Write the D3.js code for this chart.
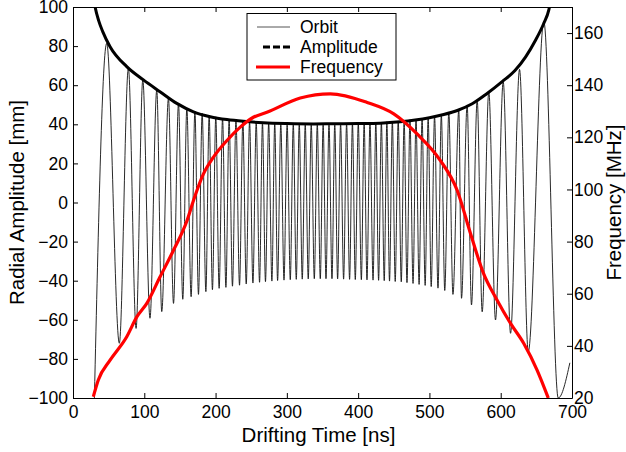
<!DOCTYPE html>
<html><head><meta charset="utf-8">
<script src="https://cdn.jsdelivr.net/npm/d3@7"></script>
<style>body{margin:0;background:#fff}svg{display:block;font-family:"Liberation Sans",Arial,sans-serif}</style>
</head><body><svg id="c" width="626" height="452"></svg>
<script>
const xTicks = [0,100,200,300,400,500,600,700];
const yLeftTicks = [-100,-80,-60,-40,-20,0,20,40,60,80,100];
const yRightTicks = [20,40,60,80,100,120,140,160];
const seriesNames = ["Orbit","Amplitude","Frequency"];
const xLabel = "Drifting Time [ns]";
const yLeftLabel = "Radial Amplitude [mm]";
const yRightLabel = "Frequency [MHz]";

// Orbit extrema
const orbitPeakTime = [47.3,77.7,97.9,117.5,133.9,148,159.7,171,181.2,191,200.3,209.8,219,228.6,238.3,247.7,257,265.8,274.5,283,291.5,300.4,309,317.4,325.8,334.2,342.7,350.9,359.1,367.2,375.4,383.8,392,400.2,408.4,416.6,424.8,432.6,440.3,448,456.2,464.5,472.7,481.2,489.7,498.2,507.2,516.7,527.2,541.2,552.9,567,583.3,603.5,626.4,660.5];
const orbitPeakValue = [81.4,68.6,62.7,57.5,53.3,50.7,48.2,46.8,45.6,44.6,43.8,43.1,42.6,42.1,41.7,41.3,41,40.8,40.6,40.5,40.4,40.3,40.2,40.2,40.2,40.2,40.2,40.2,40.2,40.3,40.3,40.4,40.5,40.6,40.7,40.8,41,41.1,41.3,41.5,41.7,42,42.3,42.7,43.1,43.6,44.2,45,46.2,47.3,49.9,52.4,56.7,61.8,68.1,92.5];
const orbitTroughTime = [30,65,88.5,108,124.5,141,154,165.7,176,186.4,195.6,205,214.5,223.7,233.6,243,252.4,261.7,270,279,287,296,304.8,313.2,321.6,330,338.5,346.9,354.9,363.3,371.2,379.6,388,396,404.5,412.4,420.9,428.7,436.6,444,452,460.5,468.5,477,485.5,494,502.5,512,521.5,533,545,559,574,592.7,613.8,638.6,680.7];
const orbitTroughValue = [-100,-72,-64.4,-59.2,-55.8,-51.6,-49.5,-48.2,-47,-45.6,-44.6,-43.9,-43.4,-42.8,-42.3,-41.7,-41.2,-40.8,-40.5,-40.2,-39.9,-39.7,-39.5,-39.3,-39.2,-39.1,-39,-39,-39,-39,-39.1,-39.2,-39.3,-39.4,-39.5,-39.6,-39.7,-39.8,-40,-40.2,-40.4,-40.6,-41,-41.4,-41.9,-42.4,-43,-43.8,-45,-47,-49,-52.4,-55.9,-60.1,-66.9,-76.3,-100];
const orbitEndTime = [697];
const orbitEndValue = [-82];

// Amplitude envelope
const ampTime = [29,31,36,41.7,52,75.4,98.8,122,145.6,169,192.4,216,239,267,300,337.5,365.6,400,431,459,480,500,520,540,560,580,602,620,635,649,660.5,667.5,670];
const ampValue = [104,100,93,87.4,79.7,69.5,62.7,56.7,50.7,46.4,43.9,42.4,41.5,40.8,40.4,40.2,40.3,40.4,40.6,41.3,42.2,43.4,45,47.2,50.5,55.5,61.8,67.5,74.5,83.1,91.7,98.5,103];

// Frequency (MHz)
const freqTime = [28.5,35.5,52,75.4,89.5,103.5,122,141,160,169,183,197,216,234.6,253,272,318.8,361,412.5,450,482.7,515.4,539,557.6,576,595,613.8,632.4,651,666.7];
const freqValue = [20.5,26.9,34.5,43.5,51.1,56.3,66.4,76.7,88.1,95.8,106,112.4,118.8,123.9,127.7,129.6,135.1,136.7,133.4,129,121.3,111.1,99.6,83.1,67.7,57.5,48.6,40.9,30.7,20];

const svg = d3.select("#c");
const L = 73, R = 572, T = 7, B = 398;
const x = d3.scaleLinear().domain([0,700]).range([L,R]);
const yL = d3.scaleLinear().domain([-100,100]).range([B,T]);
const yR = d3.scaleLinear().domain([20,170]).range([B,T]);
const FS = 17.5, LFS = 20.5, GFS = 17.5;

svg.append("defs").append("clipPath").attr("id","clip")
  .append("rect").attr("x",L).attr("y",T).attr("width",R-L).attr("height",B-T);

// Orbit
const orbit = [];
orbitPeakTime.forEach((t,i)=>orbit.push([t,orbitPeakValue[i]]));
orbitTroughTime.forEach((t,i)=>orbit.push([t,orbitTroughValue[i]]));
orbitEndTime.forEach((t,i)=>orbit.push([t,orbitEndValue[i]]));
orbit.sort((a,b)=>a[0]-b[0]);

const g = svg.append("g").attr("clip-path","url(#clip)");
g.append("path").datum(orbit)
  .attr("d", d3.line().x(d=>x(d[0])).y(d=>yL(d[1])).curve(d3.curveMonotoneX))
  .attr("fill","none").attr("stroke","#111").attr("stroke-width",0.9);

g.append("path").datum(ampTime.map((t,i)=>[t,ampValue[i]]))
  .attr("d", d3.line().x(d=>x(d[0])).y(d=>yL(d[1])).curve(d3.curveMonotoneX))
  .attr("fill","none").attr("stroke","#000").attr("stroke-width",3);

g.append("path").datum(freqTime.map((t,i)=>[t,freqValue[i]]))
  .attr("d", d3.line().x(d=>x(d[0])).y(d=>yR(d[1])).curve(d3.curveMonotoneX))
  .attr("fill","none").attr("stroke","#ff0000").attr("stroke-width",3.2)
  .attr("stroke-linejoin","round");

// Axes
function styleAxis(sel){
  sel.selectAll("path,line").attr("stroke","#000").attr("stroke-width",1);
  sel.selectAll("text").attr("font-size",FS).attr("fill","#000")
    .attr("font-family",'"Liberation Sans",Arial,sans-serif');
}
svg.append("g").attr("transform",`translate(0,${B})`)
  .call(d3.axisBottom(x).tickValues(xTicks).tickSizeInner(-5).tickSizeOuter(0).tickPadding(8))
  .call(styleAxis);
svg.append("g").attr("transform",`translate(0,${T})`)
  .call(d3.axisTop(x).tickValues(xTicks).tickSizeInner(-5).tickSizeOuter(0).tickFormat(""))
  .call(styleAxis);
svg.append("g").attr("transform",`translate(${L},0)`)
  .call(d3.axisLeft(yL).tickValues(yLeftTicks).tickSizeInner(-5).tickSizeOuter(0).tickPadding(5))
  .call(styleAxis);
svg.append("g").attr("transform",`translate(${R},0)`)
  .call(d3.axisRight(yR).tickValues(yRightTicks).tickSizeInner(-5).tickSizeOuter(0).tickPadding(2))
  .call(styleAxis);

// Labels
svg.append("text").attr("x",(L+R)/2 - 4).attr("y",442).attr("text-anchor","middle")
  .attr("font-size",LFS).text(xLabel);
svg.append("text").attr("transform",`translate(24,${(T+B)/2}) rotate(-90)`)
  .attr("text-anchor","middle").attr("font-size",LFS).text(yLeftLabel);
svg.append("text").attr("transform",`translate(621,${(T+B)/2}) rotate(-90)`)
  .attr("text-anchor","middle").attr("font-size",LFS).text(yRightLabel);

// Legend
const lg = svg.append("g");
lg.append("rect").attr("x",247).attr("y",13.5).attr("width",149).attr("height",66.5)
  .attr("fill","#fff").attr("stroke","#000").attr("stroke-width",1);
const rows = [27,47,67];
const sampleStyle = [
  {x1:257,x2:290,stroke:"#555",w:1,dash:null},
  {x1:263,x2:290,stroke:"#000",w:3,dash:"7,3"},
  {x1:256,x2:290,stroke:"#ff0000",w:3,dash:null}
];
seriesNames.forEach((name,i)=>{
  const s = sampleStyle[i];
  const ln = lg.append("line").attr("x1",s.x1).attr("x2",s.x2).attr("y1",rows[i]).attr("y2",rows[i])
    .attr("stroke",s.stroke).attr("stroke-width",s.w);
  if (s.dash) ln.attr("stroke-dasharray",s.dash);
  lg.append("text").attr("x",300).attr("y",rows[i]).attr("dy","0.35em")
    .attr("font-size",GFS).text(name);
});
</script></body></html>
